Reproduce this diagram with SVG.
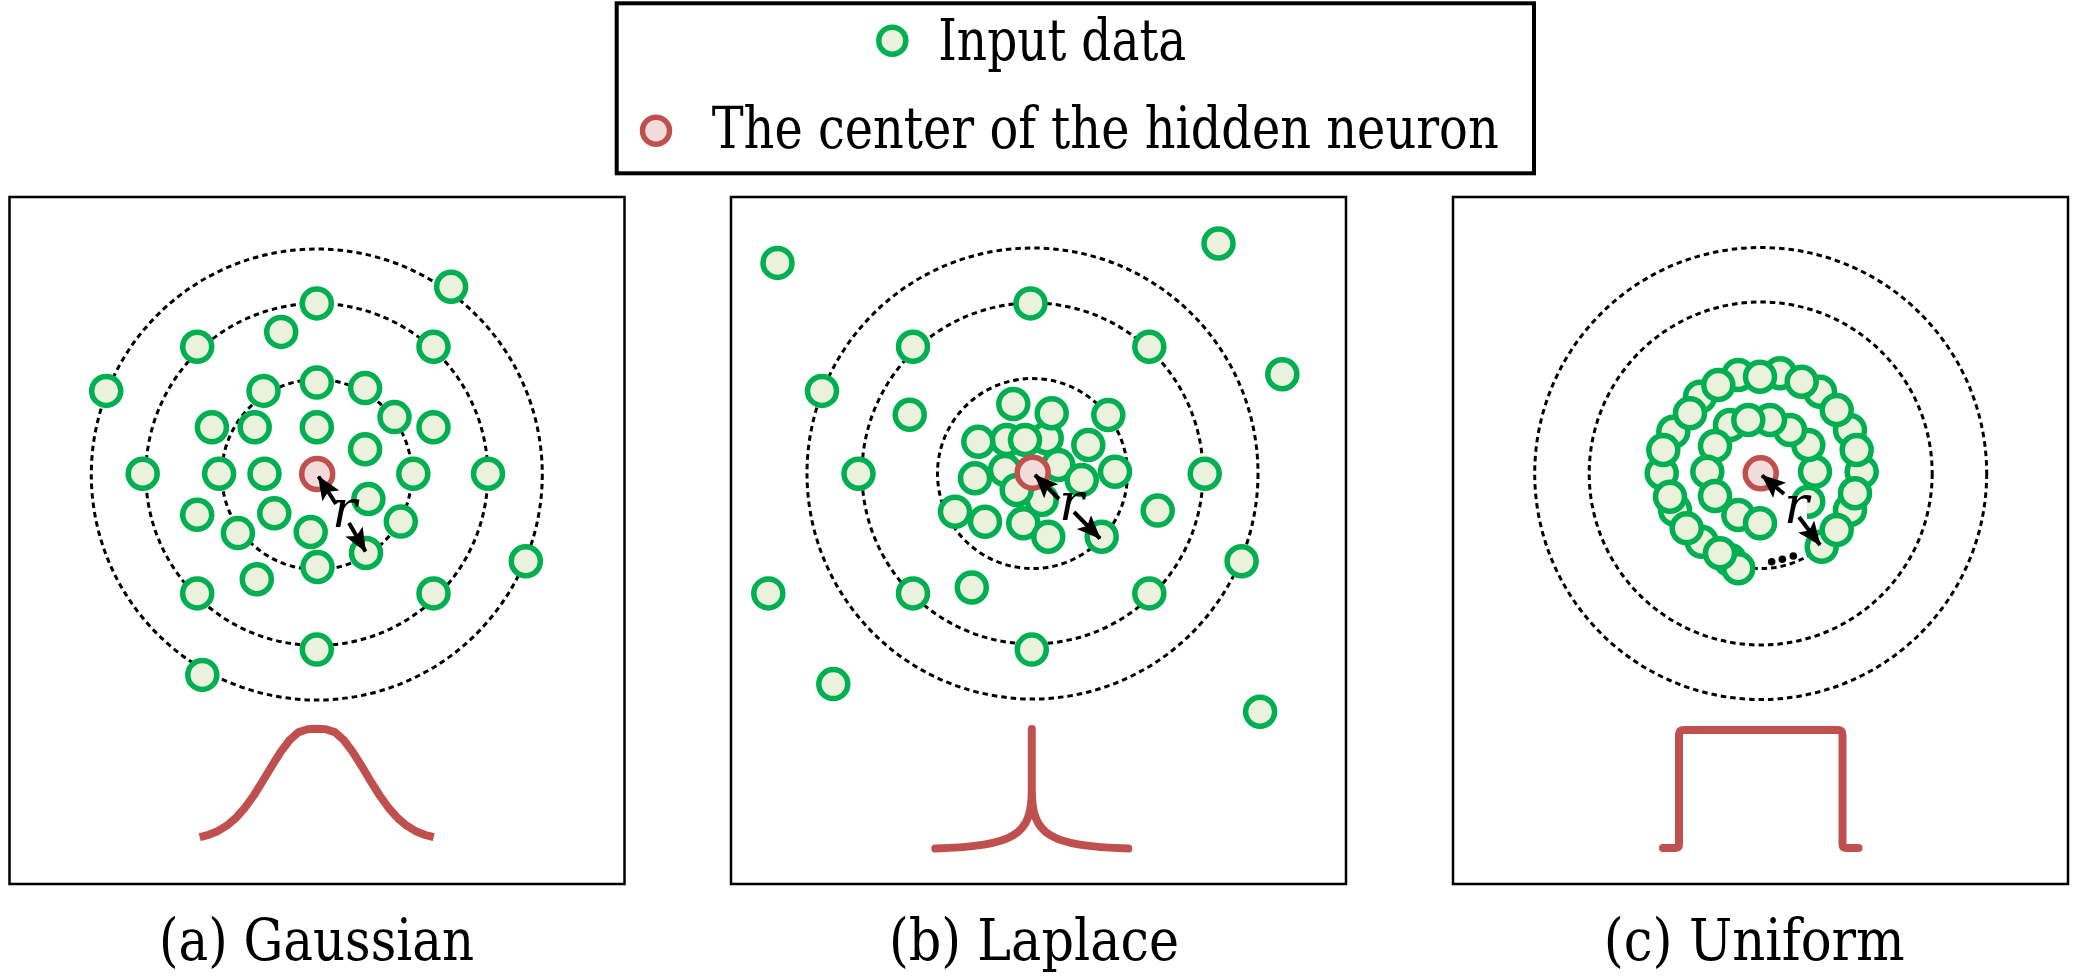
<svg xmlns="http://www.w3.org/2000/svg" width="2079" height="978" viewBox="0 0 2079 978">
<style>
.g{fill:#EAF1DD;stroke:#00B050;stroke-width:5.5}
.c{fill:#F2DCDB;stroke:#C0504D;stroke-width:5.5}
.d{fill:none;stroke:#000;stroke-width:3;stroke-dasharray:5.5 4}
.p{fill:#fff;stroke:#000;stroke-width:2.5}
.cv{fill:none;stroke:#C0504D;stroke-width:8;stroke-linejoin:round}
.ar{stroke:#000;stroke-width:4;marker-end:url(#ah)}
.t{font-family:'DejaVu Serif',serif;fill:#000}
</style>
<defs>
<marker id="ah" markerUnits="userSpaceOnUse" markerWidth="26" markerHeight="22" refX="23" refY="10" orient="auto">
<path d="M0,0 L24,10 L0,20 L5,10 z" fill="#000"/>
</marker>
</defs>
<rect width="2079" height="978" fill="#fff"/>

<g id="legend">
<rect x="616.7" y="3.3" width="917.3" height="170" fill="#fff" stroke="#000" stroke-width="4"/>
<circle class="g" cx="892.3" cy="40.7" r="13.5"/>
<text class="t" x="938.3" y="60" font-size="57" textLength="248" lengthAdjust="spacingAndGlyphs">Input data</text>
<circle class="c" cx="656" cy="130.7" r="13.5"/>
<text class="t" x="711.7" y="147.5" font-size="57" textLength="787" lengthAdjust="spacingAndGlyphs">The center of the hidden neuron</text>
</g>

<g id="panel-a">
<rect class="p" x="9.5" y="197" width="615" height="687"/>
<circle class="d" cx="316.8" cy="474.5" r="225.5"/>
<circle class="d" cx="316.8" cy="474.5" r="171"/>
<circle class="d" cx="316.8" cy="474.5" r="95"/>
<circle class="g" cx="451.1" cy="286.8" r="14.5"/>
<circle class="g" cx="316.8" cy="303.4" r="14.5"/>
<circle class="g" cx="281.2" cy="331.9" r="14.5"/>
<circle class="g" cx="197.2" cy="346.7" r="14.5"/>
<circle class="g" cx="433.5" cy="346.7" r="14.5"/>
<circle class="g" cx="106.2" cy="390.9" r="14.5"/>
<circle class="g" cx="263.5" cy="390.9" r="14.5"/>
<circle class="g" cx="316.8" cy="382.6" r="14.5"/>
<circle class="g" cx="365.1" cy="388.1" r="14.5"/>
<circle class="g" cx="394.5" cy="417.1" r="14.5"/>
<circle class="g" cx="211.9" cy="427.2" r="14.5"/>
<circle class="g" cx="254.7" cy="427.2" r="14.5"/>
<circle class="g" cx="316.8" cy="427.2" r="14.5"/>
<circle class="g" cx="433.5" cy="427.2" r="14.5"/>
<circle class="g" cx="365.1" cy="449.3" r="14.5"/>
<circle class="g" cx="142.7" cy="473.7" r="14.5"/>
<circle class="g" cx="219.1" cy="473.7" r="14.5"/>
<circle class="g" cx="264.5" cy="473.7" r="14.5"/>
<circle class="g" cx="413.3" cy="473.7" r="14.5"/>
<circle class="g" cx="488.0" cy="473.7" r="14.5"/>
<circle class="g" cx="368.4" cy="499.1" r="14.5"/>
<circle class="g" cx="197.2" cy="514.7" r="14.5"/>
<circle class="g" cx="274.3" cy="513.2" r="14.5"/>
<circle class="g" cx="400.8" cy="521.6" r="14.5"/>
<circle class="g" cx="237.9" cy="533.1" r="14.5"/>
<circle class="g" cx="310.7" cy="532.0" r="14.5"/>
<circle class="g" cx="366.0" cy="553.0" r="14.5"/>
<circle class="g" cx="317.5" cy="567.0" r="14.5"/>
<circle class="g" cx="256.8" cy="579.2" r="14.5"/>
<circle class="g" cx="197.2" cy="593.4" r="14.5"/>
<circle class="g" cx="433.5" cy="593.4" r="14.5"/>
<circle class="g" cx="525.8" cy="561.2" r="14.5"/>
<circle class="g" cx="316.8" cy="649.6" r="14.5"/>
<circle class="g" cx="202.3" cy="674.9" r="14.5"/>
<circle class="c" cx="317.2" cy="474" r="15.5"/>
<polyline class="cv" points="199.7,837.1 208.7,834.8 217.7,831.2 226.7,825.7 235.7,818.1 244.7,808 253.7,795.5 262.7,781.2 271.7,766.2 280.7,751.9 289.7,740 298.7,732.1 307.7,729.3 316.7,728.8 325.7,729.3 334.7,732.1 343.7,740 352.7,751.9 361.7,766.2 370.7,781.2 379.7,795.5 388.7,808 397.7,818.1 406.7,825.7 415.7,831.2 424.7,834.8 433.7,837.1"/>
<text class="t" x="316.5" y="960" font-size="58" text-anchor="middle" textLength="315" lengthAdjust="spacingAndGlyphs">(a) Gaussian</text>
</g>

<g id="panel-b">
<rect class="p" x="731" y="197" width="615" height="687"/>
<circle class="d" cx="1032.5" cy="473.5" r="225.5"/>
<circle class="d" cx="1032.5" cy="473.5" r="170.5"/>
<circle class="d" cx="1032.5" cy="473.5" r="95"/>
<circle class="g" cx="777.5" cy="262.9" r="14.5"/>
<circle class="g" cx="1218.5" cy="243.5" r="14.5"/>
<circle class="g" cx="1030.5" cy="303.4" r="14.5"/>
<circle class="g" cx="913.0" cy="346.7" r="14.5"/>
<circle class="g" cx="1149.3" cy="346.7" r="14.5"/>
<circle class="g" cx="1282.3" cy="374.3" r="14.5"/>
<circle class="g" cx="822.0" cy="390.9" r="14.5"/>
<circle class="g" cx="909.7" cy="414.8" r="14.5"/>
<circle class="g" cx="858.5" cy="473.7" r="14.5"/>
<circle class="g" cx="1204.7" cy="473.7" r="14.5"/>
<circle class="g" cx="1157.7" cy="510.6" r="14.5"/>
<circle class="g" cx="1241.6" cy="561.2" r="14.5"/>
<circle class="g" cx="768.3" cy="593.4" r="14.5"/>
<circle class="g" cx="913.0" cy="593.4" r="14.5"/>
<circle class="g" cx="971.8" cy="587.5" r="14.5"/>
<circle class="g" cx="1149.3" cy="593.4" r="14.5"/>
<circle class="g" cx="1031.8" cy="649.6" r="14.5"/>
<circle class="g" cx="833.3" cy="684.1" r="14.5"/>
<circle class="g" cx="1260.1" cy="711.8" r="14.5"/>
<circle class="g" cx="1006.7" cy="440" r="14.5"/>
<circle class="g" cx="1046.7" cy="438.3" r="14.5"/>
<circle class="g" cx="1005" cy="470" r="14.5"/>
<circle class="g" cx="1058.3" cy="465" r="14.5"/>
<circle class="g" cx="1041.7" cy="500" r="14.5"/>
<circle class="g" cx="1013.3" cy="404" r="14.5"/>
<circle class="g" cx="1051.7" cy="413.3" r="14.5"/>
<circle class="g" cx="1108.3" cy="415" r="14.5"/>
<circle class="g" cx="978.3" cy="441.7" r="14.5"/>
<circle class="g" cx="1025" cy="440" r="14.5"/>
<circle class="g" cx="1088.3" cy="445" r="14.5"/>
<circle class="g" cx="975" cy="478.3" r="14.5"/>
<circle class="g" cx="1081.7" cy="480" r="14.5"/>
<circle class="g" cx="1115" cy="471.7" r="14.5"/>
<circle class="g" cx="1016.7" cy="490" r="14.5"/>
<circle class="g" cx="955" cy="511.7" r="14.5"/>
<circle class="g" cx="985" cy="521.7" r="14.5"/>
<circle class="g" cx="1023.3" cy="523.3" r="14.5"/>
<circle class="g" cx="1048.3" cy="536.7" r="14.5"/>
<circle class="g" cx="1101.7" cy="536.7" r="14.5"/>
<circle class="c" cx="1032.7" cy="472.7" r="15.5"/>
<path class="cv" stroke-linecap="round" d="M935.3,848.5 C1015,846 1031.8,835 1031.8,790 L1031.8,729 L1031.8,790 C1031.8,835 1048.6,846 1128.3,848.5"/>
<text class="t" x="1034" y="960" font-size="58" text-anchor="middle" textLength="290" lengthAdjust="spacingAndGlyphs">(b) Laplace</text>
</g>

<g id="panel-c">
<rect class="p" x="1453" y="197" width="615" height="687"/>
<circle class="d" cx="1760.7" cy="473.5" r="226"/>
<circle class="d" cx="1760.7" cy="473.5" r="171.5"/>
<circle class="d" cx="1760.7" cy="473.5" r="95"/>
<circle class="g" cx="1730" cy="560" r="14.5"/>
<circle class="g" cx="1701.7" cy="541.7" r="14.5"/>
<circle class="g" cx="1675" cy="510" r="14.5"/>
<circle class="g" cx="1661.7" cy="473.3" r="14.5"/>
<circle class="g" cx="1673.3" cy="431.7" r="14.5"/>
<circle class="g" cx="1700" cy="396.7" r="14.5"/>
<circle class="g" cx="1738.3" cy="375" r="14.5"/>
<circle class="g" cx="1780" cy="373.3" r="14.5"/>
<circle class="g" cx="1820" cy="391.7" r="14.5"/>
<circle class="g" cx="1850" cy="430" r="14.5"/>
<circle class="g" cx="1861.7" cy="471.7" r="14.5"/>
<circle class="g" cx="1850" cy="510" r="14.5"/>
<circle class="g" cx="1821.7" cy="546.7" r="14.5"/>
<circle class="g" cx="1836.7" cy="530" r="14.5"/>
<circle class="g" cx="1855" cy="493.3" r="14.5"/>
<circle class="g" cx="1856.7" cy="450" r="14.5"/>
<circle class="g" cx="1836.7" cy="410" r="14.5"/>
<circle class="g" cx="1801.7" cy="381.7" r="14.5"/>
<circle class="g" cx="1760" cy="376.7" r="14.5"/>
<circle class="g" cx="1718.3" cy="385" r="14.5"/>
<circle class="g" cx="1690" cy="413.3" r="14.5"/>
<circle class="g" cx="1663.3" cy="450" r="14.5"/>
<circle class="g" cx="1670" cy="496.7" r="14.5"/>
<circle class="g" cx="1686.7" cy="528.3" r="14.5"/>
<circle class="g" cx="1738.3" cy="568.3" r="14.5"/>
<circle class="g" cx="1720" cy="553.3" r="14.5"/>
<circle class="g" cx="1808.3" cy="501.7" r="14.5"/>
<circle class="g" cx="1815" cy="471.7" r="14.5"/>
<circle class="g" cx="1808.3" cy="445" r="14.5"/>
<circle class="g" cx="1790" cy="430" r="14.5"/>
<circle class="g" cx="1770" cy="420" r="14.5"/>
<circle class="g" cx="1730" cy="425" r="14.5"/>
<circle class="g" cx="1748.3" cy="420" r="14.5"/>
<circle class="g" cx="1715" cy="446" r="14.5"/>
<circle class="g" cx="1707.3" cy="471.7" r="14.5"/>
<circle class="g" cx="1715" cy="496" r="14.5"/>
<circle class="g" cx="1738.3" cy="515" r="14.5"/>
<circle class="g" cx="1760" cy="523.3" r="14.5"/>
<circle class="c" cx="1760.7" cy="473.3" r="15.5"/>
<circle cx="1771.7" cy="561.7" r="3.8"/>
<circle cx="1782.3" cy="559.3" r="3.8"/>
<circle cx="1793.3" cy="556" r="3.8"/>
<path class="cv" stroke-linecap="round" d="M1663,848 L1675,848 Q1679,848 1679,844 L1679,735 Q1679,730 1684,730 L1837.5,730 Q1842.5,730 1842.5,735 L1842.5,844 Q1842.5,848 1846.5,848 L1858.5,848"/>
<text class="t" x="1754.3" y="960" font-size="58" text-anchor="middle" textLength="301" lengthAdjust="spacingAndGlyphs">(c) Uniform</text>
</g>

<g id="connectors">
<line class="ar" x1="336" y1="504" x2="318.5" y2="476.5"/>
<line class="ar" x1="349" y1="523" x2="365.5" y2="551.5"/>
<text class="t" x="332" y="527" font-size="52" font-style="italic">r</text>
<line class="ar" x1="1059" y1="499" x2="1035" y2="475"/>
<line class="ar" x1="1074" y1="512" x2="1100" y2="538.5"/>
<text class="t" x="1059" y="520" font-size="52" font-style="italic">r</text>
<rect x="1786" y="497" width="21" height="27" fill="#fff"/>
<line class="ar" x1="1784" y1="494" x2="1762" y2="475.5"/>
<line class="ar" x1="1799" y1="517" x2="1820" y2="545"/>
<text class="t" x="1784" y="523" font-size="52" font-style="italic">r</text>
</g>
</svg>
